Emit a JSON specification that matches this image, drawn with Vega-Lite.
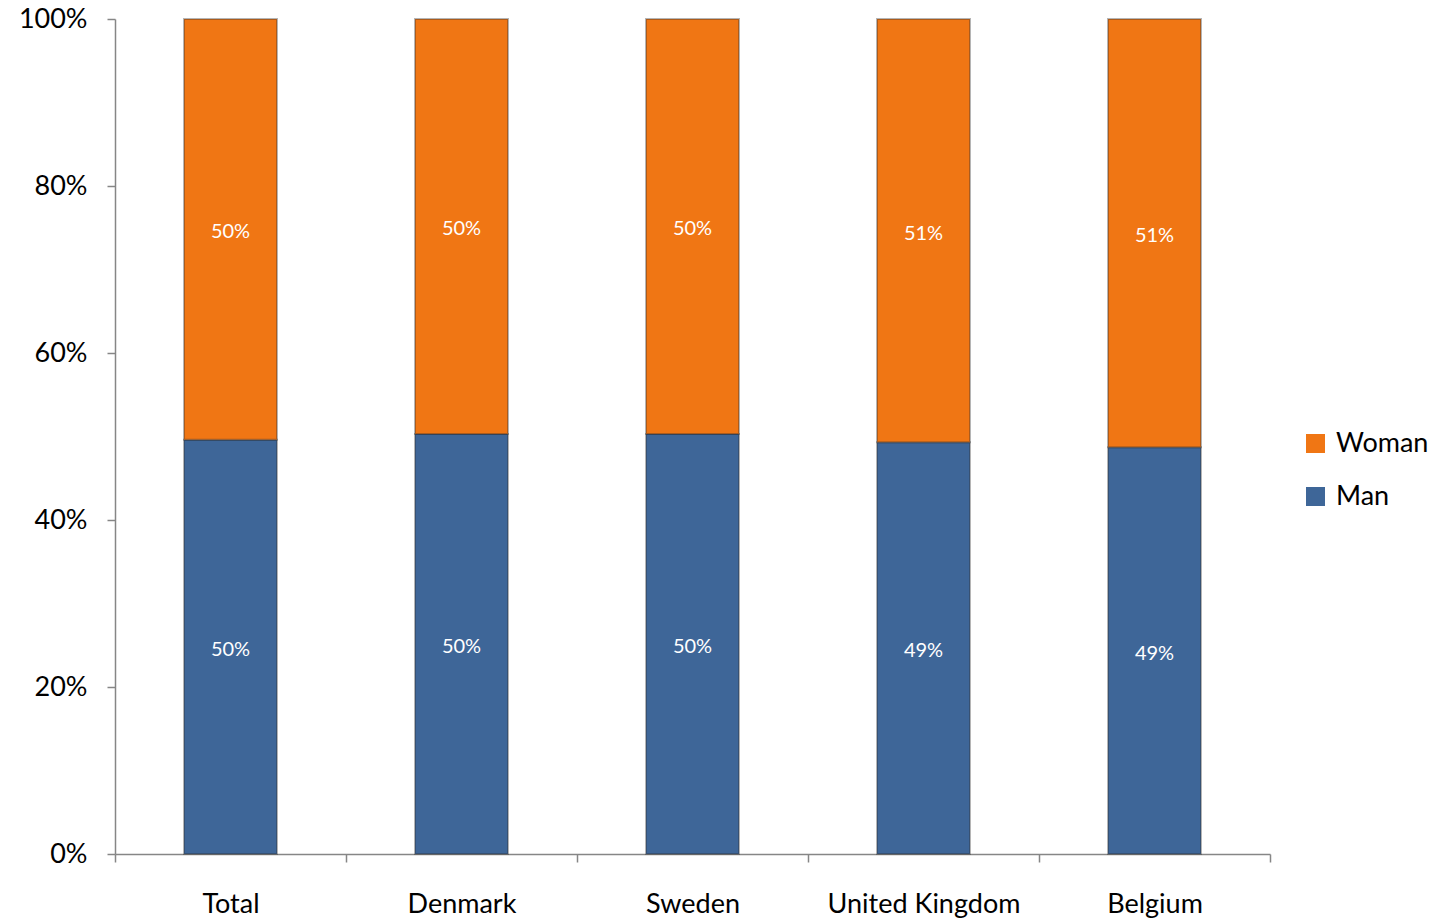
{
  "$schema": "https://vega.github.io/schema/vega-lite/v6.json",
  "autosize": {"type": "none"},
  "width": 1155,
  "height": 835,
  "padding": {"left": 115, "top": 19, "right": 172, "bottom": 68},
  "background": "white",
  "config": {
    "view": {"stroke": null},
    "font": "Lato",
    "axis": {"labelFont": "Lato", "labelColor": "black", "domainColor": "#868686", "tickColor": "#868686", "grid": false, "title": null}
  },
  "data": {
    "values": [
      {"country": "Total", "sex": "Man", "value": 0.496},
      {"country": "Total", "sex": "Woman", "value": 0.504},
      {"country": "Denmark", "sex": "Man", "value": 0.503},
      {"country": "Denmark", "sex": "Woman", "value": 0.497},
      {"country": "Sweden", "sex": "Man", "value": 0.503},
      {"country": "Sweden", "sex": "Woman", "value": 0.497},
      {"country": "United Kingdom", "sex": "Man", "value": 0.493},
      {"country": "United Kingdom", "sex": "Woman", "value": 0.507},
      {"country": "Belgium", "sex": "Man", "value": 0.487},
      {"country": "Belgium", "sex": "Woman", "value": 0.513}
    ]
  },
  "transform": [
    {"stack": "value", "groupby": ["country"], "sort": [{"field": "sex", "order": "ascending"}], "offset": "normalize", "as": ["y0", "y1"]},
    {"calculate": "(datum.y0 + datum.y1) / 2", "as": "ymid"}
  ],
  "encoding": {
    "x": {
      "field": "country",
      "type": "nominal",
      "sort": ["Total", "Denmark", "Sweden", "United Kingdom", "Belgium"],
      "scale": {"paddingInner": 0, "paddingOuter": 0},
      "axis": {"labelAngle": 0, "labelFontSize": 27, "labelPadding": 29, "labelLimit": 400, "tickBand": "extent", "tickSize": 8, "domainWidth": 1.5, "tickWidth": 1.5}
    }
  },
  "layer": [
    {
      "mark": {"type": "bar", "width": 93, "stroke": "#2a2a2a", "strokeOpacity": 0.35, "strokeWidth": 2},
      "encoding": {
        "y": {
          "field": "y0",
          "type": "quantitative",
          "scale": {"domain": [0, 1]},
          "axis": {"format": ".0%", "values": [0, 0.2, 0.4, 0.6, 0.8, 1], "labelFontSize": 27, "labelPadding": 20, "tickSize": 8, "domainWidth": 1.5, "tickWidth": 1.5}
        },
        "y2": {"field": "y1"},
        "color": {
          "field": "sex",
          "type": "nominal",
          "scale": {"domain": ["Woman", "Man"], "range": ["#F07614", "#3E6698"]},
          "legend": {
            "orient": "none",
            "legendX": 1187,
            "legendY": 411,
            "title": null,
            "symbolType": "square",
            "symbolSize": 360,
            "symbolStrokeWidth": 0,
            "labelFontSize": 27,
            "labelFont": "Lato",
            "labelColor": "black",
            "rowPadding": 25,
            "labelOffset": 7
          }
        }
      }
    },
    {
      "mark": {"type": "text", "color": "white", "fontSize": 20, "font": "Lato", "dy": 3},
      "encoding": {
        "y": {"field": "ymid", "type": "quantitative"},
        "text": {"field": "value", "type": "quantitative", "format": ".0%"}
      }
    }
  ]
}
